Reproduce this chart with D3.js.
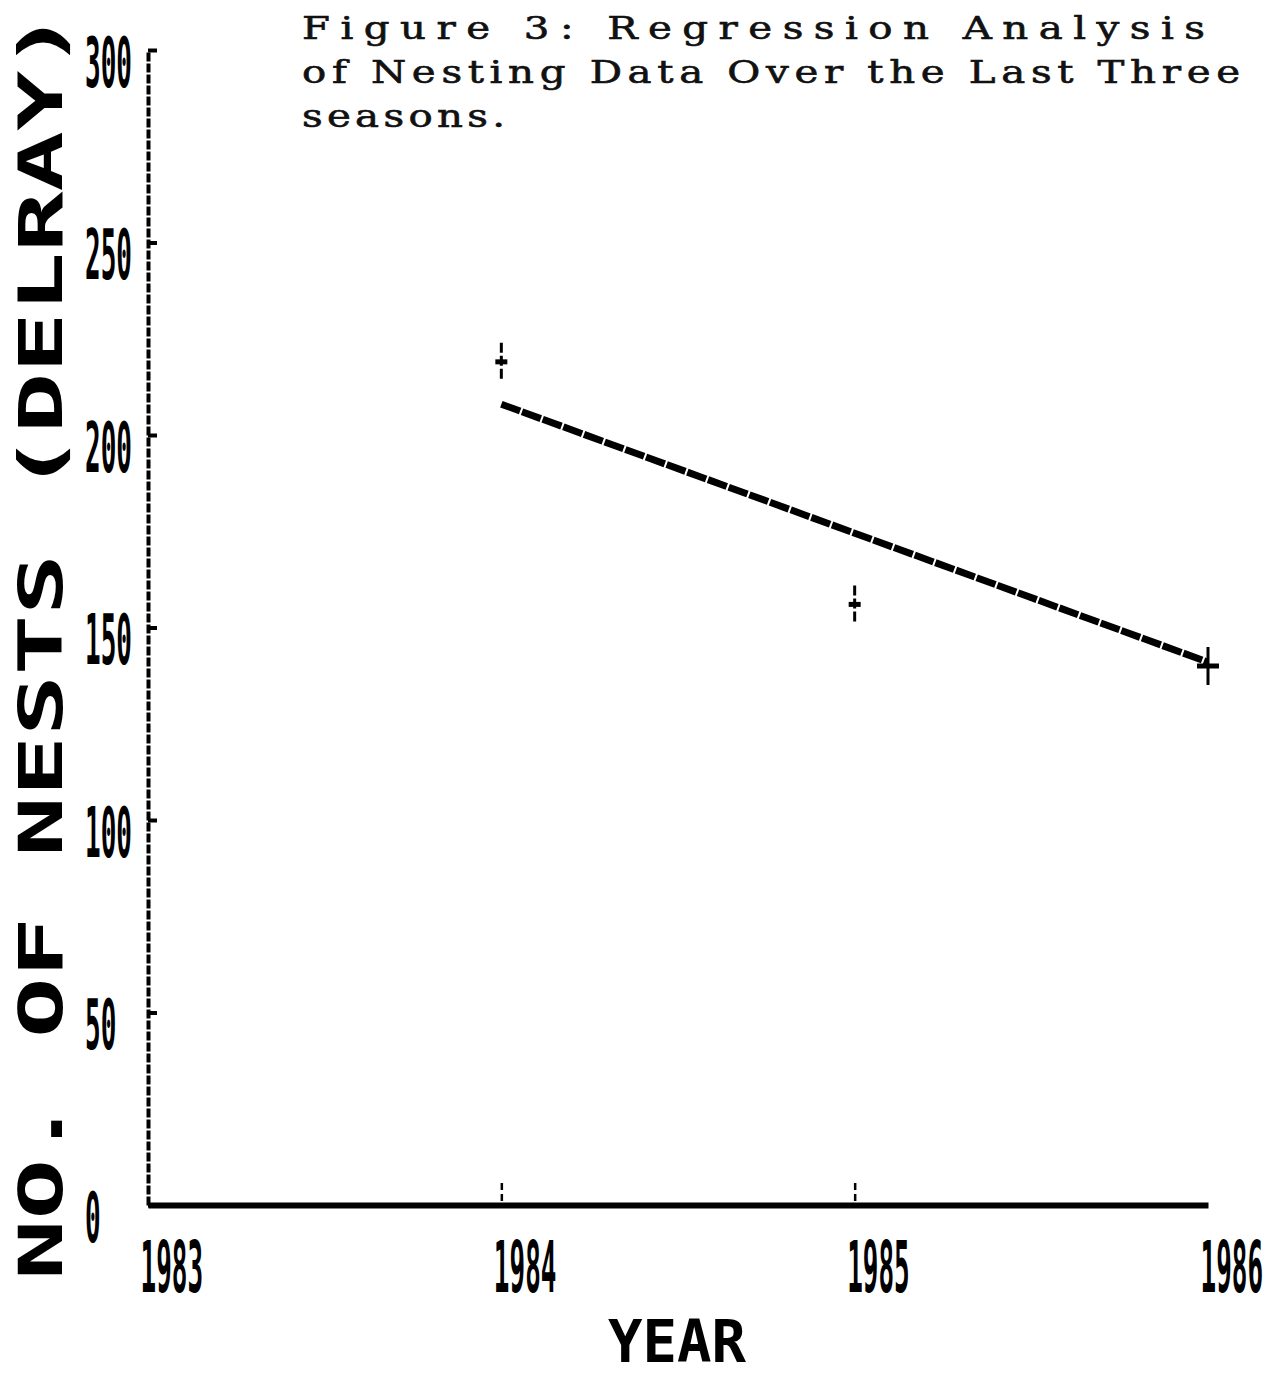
<!DOCTYPE html>
<html>
<head>
<meta charset="utf-8">
<script src="https://cdn.jsdelivr.net/npm/d3@7"></script>
<style>
  html, body { margin: 0; padding: 0; background: #fff; }
  svg { display: block; }
  .title { font-family: "DejaVu Serif", serif; font-size: 31px; fill: #111; stroke: #111; stroke-width: 0.6px; }
  .dot { font-family: "DejaVu Sans Mono", monospace; font-weight: bold; fill: #000; }
</style>
</head>
<body>
<div id="chart"></div>
<script>
// --- data ---
const years = [1983, 1984, 1985, 1986];
const countTicks = [0, 50, 100, 150, 200, 250, 300];
const nestYears = [1984, 1985, 1986];
const nestCounts = [219, 156, 140];
const fitYears = [1984, 1986];
const fitCounts = [208, 141];
const titleLines = [
  'Figure 3:  Regression Analysis',
  'of Nesting Data Over the Last Three',
  'seasons.'
];
const xTitle = 'YEAR';
const yTitle = 'NO. OF NESTS (DELRAY)';

const width = 1268, height = 1379;

const svg = d3.select('#chart').append('svg')
  .attr('width', width)
  .attr('height', height);

const x = d3.scaleLinear().domain([1983, 1986]).range([148, 1208]);
const y = d3.scaleLinear().domain([0, 300]).range([1205, 50]);

// title, typewriter text (widened glyphs)
const titleWidths = [903, 938, 203];
const stretch = 1.3;
svg.append('g')
  .attr('transform', `translate(302,0) scale(${stretch},1)`)
  .selectAll('.title')
  .data(titleLines)
  .enter().append('text')
  .attr('class', 'title')
  .attr('x', 0)
  .attr('y', (d, i) => 39 + i * 44)
  .attr('textLength', (d, i) => titleWidths[i] / stretch)
  .attr('lengthAdjust', 'spacing')
  .text(d => d);

// --- y axis (dot matrix look) ---
const yAxis = d3.axisLeft(y)
  .tickValues(countTicks)
  .tickSizeInner(-9)
  .tickSizeOuter(0)
  .tickFormat(d3.format('d'));

const gy = svg.append('g')
  .attr('transform', `translate(${x(1983)},0)`)
  .call(yAxis);

gy.select('.domain')
  .attr('stroke', '#000')
  .attr('stroke-width', 4)
  .attr('stroke-dasharray', '9 2');
gy.selectAll('.tick line')
  .attr('stroke', '#000')
  .attr('stroke-width', 4);
gy.selectAll('.tick text')
  .attr('class', 'dot')
  .attr('x', null).attr('dy', null)
  .attr('text-anchor', 'start')
  .attr('font-size', 26)
  .attr('transform', `translate(${85 - x(1983)},36) scale(1,2.7)`);

// --- x axis ---
const xAxis = d3.axisBottom(x)
  .tickValues(years)
  .tickSizeInner(-26)
  .tickSizeOuter(0)
  .tickFormat(d3.format('d'));

const gx = svg.append('g')
  .attr('transform', `translate(0,${y(0)})`)
  .call(xAxis);

gx.select('.domain')
  .attr('stroke', '#000')
  .attr('stroke-width', 6);
gx.selectAll('.tick line')
  .attr('stroke', '#000')
  .attr('stroke-width', 2.5)
  .attr('stroke-dasharray', '7 4')
  .attr('y1', -4)
  .attr('opacity', d => (d === 1983 || d === 1986) ? 0 : 1);
gx.selectAll('.tick text')
  .attr('class', 'dot')
  .attr('y', null).attr('dy', null)
  .attr('text-anchor', 'start')
  .attr('font-size', 26)
  .attr('transform', 'translate(-8,87) scale(1,2.75)');

// axis titles
svg.append('text')
  .attr('class', 'dot')
  .attr('font-size', 44)
  .attr('text-anchor', 'middle')
  .attr('textLength', 138)
  .attr('lengthAdjust', 'spacingAndGlyphs')
  .attr('transform', `translate(${x(1984.5) - 1},1362) scale(1,1.35)`)
  .text(xTitle);

svg.append('text')
  .attr('class', 'dot')
  .attr('font-size', 60)
  .attr('text-anchor', 'middle')
  .attr('textLength', 1270)
  .attr('lengthAdjust', 'spacingAndGlyphs')
  .attr('transform', 'translate(62,645) rotate(-90)')
  .text(yTitle);

// --- regression line ---
const fit = d3.zip(fitYears, fitCounts);
svg.append('path')
  .datum(fit)
  .attr('fill', 'none')
  .attr('stroke', '#000')
  .attr('stroke-width', 7)
  .attr('stroke-dasharray', '20 2')
  .attr('d', d3.line().x(d => x(d[0])).y(d => y(d[1])));

// --- observed seasons, plus markers ---
const pts = svg.selectAll('.pt')
  .data(d3.zip(nestYears, nestCounts))
  .enter().append('g')
  .attr('class', 'pt')
  .attr('transform', d => `translate(${x(d[0])},${y(d[1])})`);

pts.append('line')
  .attr('y1', -19).attr('y2', 19)
  .attr('stroke', '#000')
  .attr('stroke-width', 3)
  .attr('stroke-dasharray', (d, i) => i === 2 ? null : '10 3');
pts.append('line')
  .attr('x1', (d, i) => i === 2 ? -11 : -6)
  .attr('x2', (d, i) => i === 2 ? 11 : 6)
  .attr('stroke', '#000')
  .attr('stroke-width', 5);
</script>
</body>
</html>
